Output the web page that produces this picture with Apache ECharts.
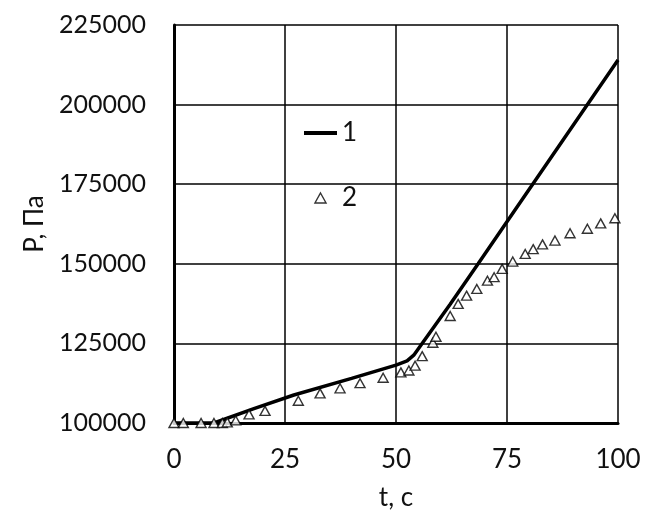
<!DOCTYPE html>
<html>
<head>
<meta charset="utf-8">
<script src="https://cdn.jsdelivr.net/npm/echarts@6/dist/echarts.min.js"></script>
<style>html,body{margin:0;padding:0;background:#fff}#c{width:650px;height:532px}</style>
</head>
<body>
<div id="c"></div>
<script>
// Series 1: model curve (t, P)
const lineT = [0, 9, 18, 27, 40, 50, 52.5, 54, 56, 62.2, 68.5, 76.8, 100];
const lineP = [100000, 100000, 104500, 108800, 114000, 118200, 119500, 121300, 125200, 137300, 150000, 166900, 214000];
// Series 2: measured points (t, P)
const pointT = [0, 2.1, 6.1, 9.0, 10.9, 12.0, 13.9, 16.9, 20.5, 28.0, 32.9, 37.4, 41.9, 47.1, 51.1, 52.9, 54.3, 55.9, 58.3, 59.0, 62.2, 64.0, 65.9, 68.2, 70.6, 72.1, 73.9, 76.3, 79.1, 80.9, 83.0, 85.8, 89.2, 93.1, 96.1, 99.3];
const pointP = [100000, 100000, 100000, 100000, 100000, 100200, 100800, 102700, 103800, 107000, 109300, 110900, 112500, 114200, 115900, 116500, 118000, 121000, 125200, 127100, 133600, 137400, 140000, 142100, 144700, 145800, 148400, 150700, 153100, 154600, 156100, 157300, 159600, 161000, 162700, 164300];
const seriesNames = ['1', '2'];
const xName = 't, с';
const yName = 'P, Па';

const FONT = 'Lato';
const TXT = '#111';
const chart = echarts.init(document.getElementById('c'), null, {renderer: 'canvas'});
chart.setOption({
  animation: false,
  backgroundColor: '#fff',
  grid: {left: 174, right: 32, top: 25, bottom: 109},
  legend: {
    orient: 'vertical',
    left: 299, top: 113,
    itemWidth: 33, itemHeight: 10, itemGap: 35,
    symbolKeepAspect: true,
    textStyle: {fontFamily: FONT, fontSize: 26, color: TXT, lineHeight: 30},
    data: [
      {name: seriesNames[0], icon: 'path://M0,0L33,0L33,4L0,4Z', itemStyle: {color: '#000', borderWidth: 0}},
      {name: seriesNames[1], icon: 'path://M5,0L10,9L0,9Z', itemStyle: {color: '#fff', borderColor: '#000', borderWidth: 1.4}}
    ]
  },
  xAxis: {
    type: 'value', min: 0, max: 100, interval: 25,
    name: xName, nameLocation: 'middle', nameGap: 62,
    nameTextStyle: {fontFamily: FONT, fontSize: 26, color: TXT},
    axisLine: {show: true, onZero: false, lineStyle: {color: '#000', width: 3}},
    axisTick: {show: false},
    axisLabel: {fontFamily: FONT, fontSize: 26, color: TXT, margin: 24},
    splitLine: {show: true, lineStyle: {color: '#000', width: 1.5}}
  },
  yAxis: {
    type: 'value', min: 100000, max: 225000, interval: 25000,
    name: yName, nameLocation: 'middle', nameGap: 108,
    nameTextStyle: {fontFamily: FONT, fontSize: 26, color: TXT},
    axisLine: {show: true, onZero: false, lineStyle: {color: '#000', width: 3}},
    axisTick: {show: false},
    axisLabel: {fontFamily: FONT, fontSize: 25, color: TXT, margin: 28, formatter: v => String(v)},
    splitLine: {show: true, lineStyle: {color: '#000', width: 1.5}}
  },
  series: [
    {
      name: seriesNames[0], type: 'line', symbol: 'none',
      data: lineT.map((t, i) => [t, lineP[i]]),
      lineStyle: {color: '#000', width: 3.5},
      itemStyle: {color: '#000'},
      z: 3
    },
    {
      name: seriesNames[1], type: 'scatter', symbol: 'triangle', symbolSize: [10, 9],
      data: pointT.map((t, i) => [t, pointP[i]]),
      itemStyle: {color: '#fff', borderColor: '#000', borderWidth: 1.4},
      z: 4
    }
  ]
});
</script>
</body>
</html>
